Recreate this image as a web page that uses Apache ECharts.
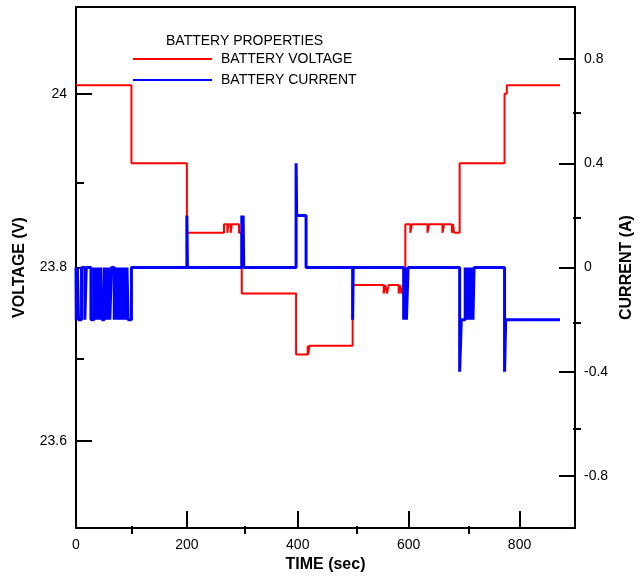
<!DOCTYPE html>
<html>
<head>
<meta charset="utf-8">
<title>Battery Properties</title>
<script src="https://cdn.jsdelivr.net/npm/echarts@6/dist/echarts.min.js"></script>
<style>
  html, body { margin: 0; padding: 0; background: #fff; }
  #chart { width: 643px; height: 578px; }
</style>
</head>
<body>
<div id="chart"></div>
<script>
// Tick positions for each axis (major ticks carry labels, minor ticks are shorter)
const timeMajorTicks = [0, 200, 400, 600, 800];
const timeMinorTicks = [100, 300, 500, 700];
const voltageMajorTicks = [23.6, 23.8, 24];
const voltageMinorTicks = [23.7, 23.9];
const currentMajorTicks = [-0.8, -0.4, 0, 0.4, 0.8];
const currentMinorTicks = [-0.6, -0.2, 0.2, 0.6];

// Battery voltage (V): [time (s), level held from that time on]
const voltageSteps = [
  [0, 24.01], [100, 23.92], [200, 23.84],
  [267, 23.85], [273, 23.84], [275, 23.85], [279, 23.84], [281, 23.85], [294, 23.84],
  [299, 23.77], [397, 23.70], [418, 23.71], [419, 23.70], [421, 23.71],
  [499, 23.78], [555, 23.77], [558, 23.78], [561, 23.77], [564, 23.78],
  [582, 23.77], [584, 23.78], [587, 23.77], [590, 23.78],
  [594, 23.85], [603, 23.84], [606, 23.85], [634, 23.84], [637, 23.85],
  [661, 23.84], [664, 23.85], [678, 23.84], [680, 23.85], [682, 23.84],
  [692, 23.92], [773, 24.00], [777, 24.01], [873, 24.01]
];

// Battery current (A): [time (s), level held from that time on]
const currentSteps = [
  [0, 0], [0.5, -0.2], [2.5, 0], [4.5, -0.2], [10, 0], [16, -0.2], [18.5, 0],
  [27, -0.2], [32.5, 0], [34.5, -0.2], [36.5, 0], [38.5, -0.2], [40.5, 0],
  [42.5, -0.2], [44.5, 0], [47, -0.2], [51, 0], [53, -0.2], [55, 0], [57, -0.2],
  [59, 0], [61, -0.2], [64, 0], [69, -0.2], [71, 0], [73, -0.2], [75, 0],
  [77, -0.2], [79, 0], [81, -0.2], [83, 0], [85, -0.2], [87, 0], [89, -0.2],
  [92, 0], [94, -0.2], [100, 0],
  [200, 0.2], [201, 0],
  [299, 0.2], [300, 0], [301.5, 0.2], [302.5, 0],
  [397, 0.4], [398, 0.2], [415, 0],
  [499, -0.2], [500, 0],
  [591, -0.2], [594, 0], [596, -0.2], [599, 0],
  [692, -0.4], [695, -0.2], [702, 0], [704, -0.2], [706, 0], [708, -0.2],
  [710, 0], [712, -0.2], [714, 0], [716, -0.2], [718, 0],
  [773, -0.4], [775, -0.2], [873, -0.2]
];

const FONT = "'Liberation Sans', Arial, Helvetica, sans-serif";
const AXIS_COLOR = '#000';
const PLOT = { left: 76, right: 62, top: 7, bottom: 44, containLabel: false };

function fmt(v) { return String(+(+v).toFixed(2)); }

const labelStyle = { fontFamily: FONT, fontSize: 14, color: '#000' };
const nameStyle = { fontFamily: FONT, fontSize: 16, fontWeight: 'bold', color: '#000' };
const frameLine = { show: true, onZero: false, lineStyle: { color: AXIS_COLOR, width: 2 } };
const noLine = { show: false, onZero: false };

function ticks(values, length) {
  return { show: true, inside: true, length: length, customValues: values,
           lineStyle: { color: AXIS_COLOR, width: 2 } };
}

const chart = echarts.init(document.getElementById('chart'), null, { renderer: 'canvas' });

chart.setOption({
  animation: false,
  backgroundColor: '#fff',
  title: {
    text: 'BATTERY PROPERTIES',
    left: 166, top: 34, padding: 0,
    textStyle: { fontFamily: FONT, fontSize: 14, fontWeight: 'normal', color: '#000', lineHeight: 14 }
  },
  legend: {
    orient: 'vertical',
    left: 133, top: 51, padding: 0,
    itemWidth: 79, itemHeight: 2, itemGap: 5,
    icon: 'rect',
    data: ['BATTERY VOLTAGE', 'BATTERY CURRENT'],
    textStyle: { fontFamily: FONT, fontSize: 14, color: '#000', lineHeight: 16, padding: [0, 0, 0, 4] }
  },
  // grid 0 carries the data, labels and long ticks; grid 1 (same box) carries the short ticks
  grid: [Object.assign({}, PLOT), Object.assign({}, PLOT)],
  xAxis: [
    {
      gridIndex: 0, type: 'value', position: 'bottom', min: 0, max: 900,
      name: 'TIME (sec)', nameLocation: 'middle', nameGap: 25, nameTextStyle: nameStyle,
      axisLine: frameLine,
      axisTick: ticks(timeMajorTicks, 17),
      axisLabel: Object.assign({ show: true, customValues: timeMajorTicks, margin: 10, formatter: fmt }, labelStyle),
      splitLine: { show: false }
    },
    {
      gridIndex: 0, type: 'value', position: 'top', min: 0, max: 900,
      axisLine: frameLine,
      axisTick: { show: false }, axisLabel: { show: false }, splitLine: { show: false }
    },
    {
      gridIndex: 1, type: 'value', position: 'bottom', min: 0, max: 900,
      axisLine: noLine,
      axisTick: ticks(timeMinorTicks, 8),
      axisLabel: { show: false }, splitLine: { show: false }
    }
  ],
  yAxis: [
    {
      gridIndex: 0, type: 'value', position: 'left', min: 23.5, max: 24.1,
      name: 'VOLTAGE (V)', nameLocation: 'middle', nameGap: 48, nameRotate: 90, nameTextStyle: nameStyle,
      axisLine: frameLine,
      axisTick: ticks(voltageMajorTicks, 16),
      axisLabel: Object.assign({ show: true, customValues: voltageMajorTicks, margin: 9, formatter: fmt }, labelStyle),
      splitLine: { show: false }
    },
    {
      gridIndex: 0, type: 'value', position: 'right', min: -1, max: 1,
      name: 'CURRENT (A)', nameLocation: 'middle', nameGap: 36, nameRotate: 90, nameTextStyle: nameStyle,
      axisLine: frameLine,
      axisTick: ticks(currentMajorTicks, 16),
      axisLabel: Object.assign({ show: true, customValues: currentMajorTicks, margin: 9, formatter: fmt }, labelStyle),
      splitLine: { show: false }
    },
    {
      gridIndex: 1, type: 'value', position: 'left', min: 23.5, max: 24.1,
      axisLine: noLine,
      axisTick: ticks(voltageMinorTicks, 8),
      axisLabel: { show: false }, splitLine: { show: false }
    },
    {
      gridIndex: 1, type: 'value', position: 'right', min: -1, max: 1,
      axisLine: noLine,
      axisTick: ticks(currentMinorTicks, 8),
      axisLabel: { show: false }, splitLine: { show: false }
    }
  ],
  series: [
    {
      name: 'BATTERY VOLTAGE', type: 'line', step: 'end',
      xAxisIndex: 0, yAxisIndex: 0,
      data: voltageSteps,
      color: '#ff0000',
      showSymbol: false, symbol: 'none',
      lineStyle: { color: '#ff0000', width: 2 },
      z: 2
    },
    {
      name: 'BATTERY CURRENT', type: 'line', step: 'end',
      xAxisIndex: 0, yAxisIndex: 1,
      data: currentSteps,
      color: '#0000ff',
      showSymbol: false, symbol: 'none',
      lineStyle: { color: '#0000ff', width: 3 },
      z: 3
    }
  ]
});
</script>
</body>
</html>
